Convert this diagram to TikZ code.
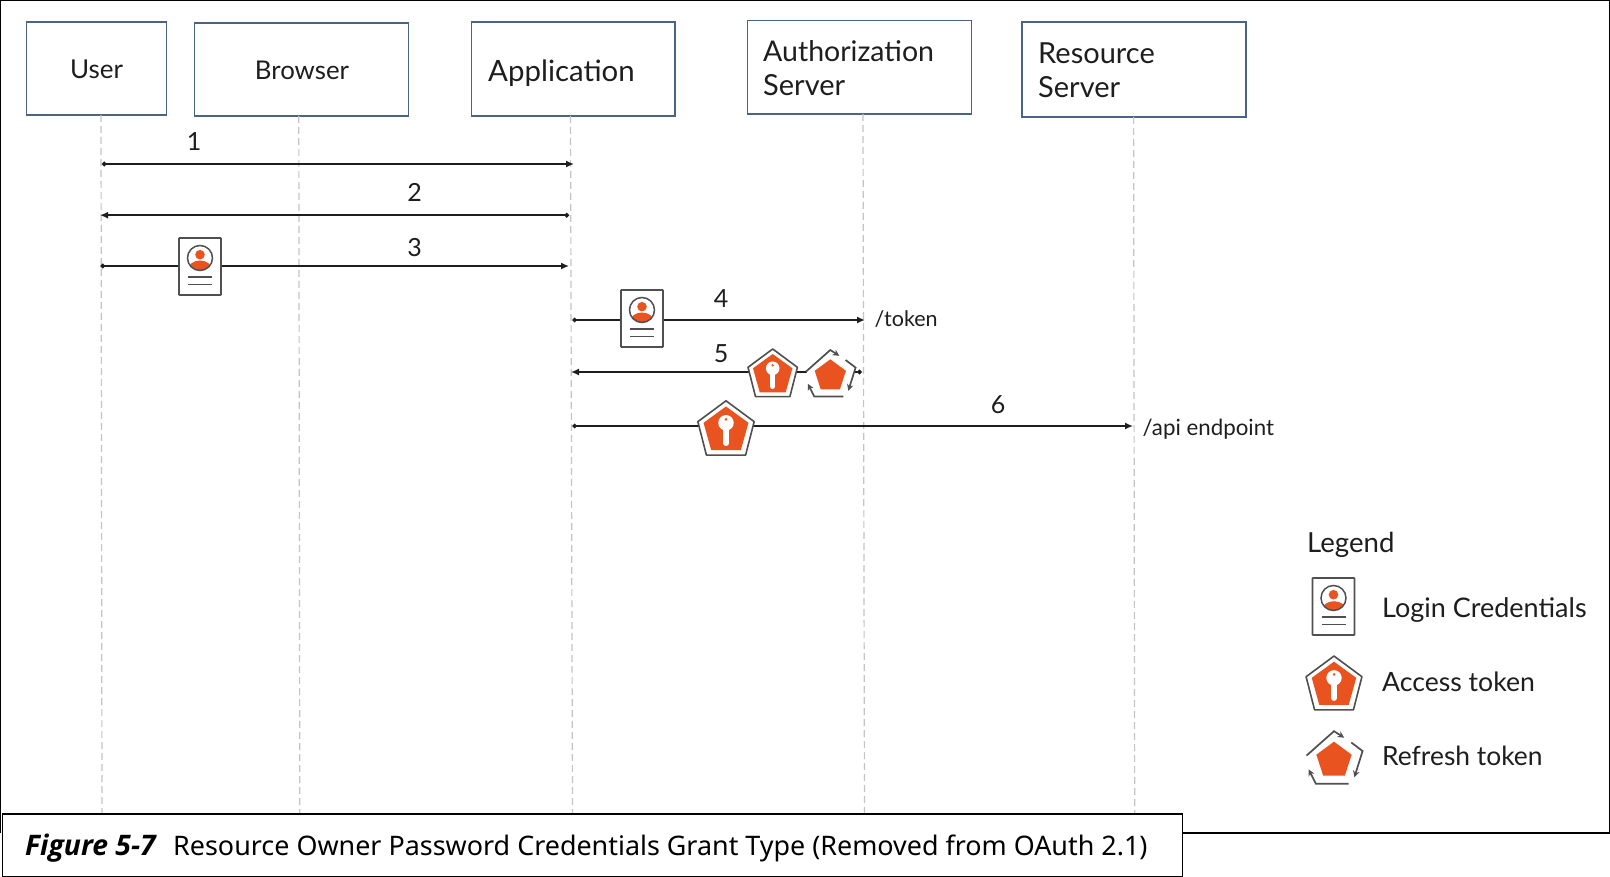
\documentclass[tikz,border=0pt]{standalone}
\usepackage{fontspec}
\setmainfont{Lato}
\newfontfamily\capfont{Noto Sans}
\newfontfamily\capbold{Open Sans}
\usetikzlibrary{arrows.meta}
\definecolor{boxline}{HTML}{4A6584}
\definecolor{lifeline}{HTML}{C4C4C4}
\definecolor{ink}{HTML}{1E1E1E}
\definecolor{tokenorange}{HTML}{E9531F}
\definecolor{icongray}{HTML}{505050}
\newcommand{\fs}[1]{\fontsize{#1}{#1}\selectfont}
\tikzset{
  x=1pt,y=-1pt,
  actor/.style={draw=boxline,line width=1.5pt,fill=white,inner sep=0pt},
  lbl/.style={text=ink,inner sep=0pt},
  life/.style={draw=lifeline,line width=1.2pt,dash pattern=on 7pt off 4pt},
  msg/.style={draw=ink,line width=1.5pt,{Circle[length=4.5pt]}-{Latex[length=8pt,width=7pt]}},
  docicon/.pic={
    \draw[icongray,line width=1.6pt,fill=white,rounded corners=.6pt] (-21,-28.5) rectangle (21,28.5);
    \begin{scope}
      \clip (0,-8.5) circle (12.5);
      \fill[tokenorange] (0,-11.8) circle (4.8);
      \fill[tokenorange] (-12,4.5) .. controls (-12,-9) and (12,-9) .. (12,4.5) -- cycle;
    \end{scope}
    \draw[icongray,line width=1.5pt] (0,-8.5) circle (12.5);
    \draw[icongray,line width=1.7pt] (-12,10.5) -- (12,10.5) (-12,18) -- (12,18);
  },
  accesskey/.pic={
    \draw[icongray,line width=1.6pt,fill=white,line join=round] (0,-24.3) -- (24.7,-6) -- (17.2,23.3) -- (-17.2,23.3) -- (-24.7,-6) -- cycle;
    \fill[tokenorange] (0,-19.3) -- (19.7,-5) -- (13,19) -- (-13,19) -- (-19.7,-5) -- cycle;
    \fill[white] (0,-5) circle (6.8);
    \draw[white,line width=5.4pt,line cap=round] (0,-4) -- (0,13);
    \fill[tokenorange] (0,-8) circle (1.3);
  },
  refreshkey/.pic={
    \fill[white] (0,-24) -- (25,-6) -- (17,24) -- (-17,24) -- (-25,-6) -- cycle;
    \fill[tokenorange] (0,-14) -- (15.6,-2.5) -- (9.6,16) -- (-9.6,16) -- (-15.6,-2.5) -- cycle;
    \draw[icongray,line width=1.7pt,-{Stealth[length=6.5pt,width=6.5pt]}] (-24.3,-1.7) -- (0,-23.3) -- (9,-17.5);
    \draw[icongray,line width=1.7pt,-{Stealth[length=6.5pt,width=6.5pt]}] (15.3,-13.3) -- (25.3,-5.7) -- (18,17.5);
    \draw[icongray,line width=1.7pt,-{Stealth[length=6.5pt,width=6.5pt]}] (13,23.3) -- (-16,23.3) -- (-22.5,10.5);
  },
}
\begin{document}
\begin{tikzpicture}
\useasboundingbox (0,0) rectangle (1610,877);
\fill[white] (0,0) rectangle (1610,877);
\draw[black,line width=1.2pt] (0.6,833) -- (0.6,0.6) -- (1609.2,0.6) -- (1609.2,833) -- (1180,833);

% actors
\node[actor,minimum width=140pt,minimum height=93pt,anchor=north west] (user) at (25.7,21.2) {};
\node[actor,minimum width=214pt,minimum height=93pt,anchor=north west] (browser) at (193.7,22.5) {};
\node[actor,minimum width=203.5pt,minimum height=94pt,anchor=north west] (app) at (470.7,21.2) {};
\node[actor,minimum width=224pt,minimum height=93.5pt,anchor=north west] (auth) at (746.7,20) {};
\node[actor,minimum width=224pt,minimum height=95pt,anchor=north west] (res) at (1021,21.2) {};
\node[lbl,font=\fs{26}] (userL) at (96.5,69) {User};
\node[lbl,font=\fs{25.8}] (browserL) at (302,70) {Browser};
\node[lbl,font=\fs{29.4},anchor=west] (appL) at (488,73) {Application};
\node[lbl,font=\fs{28.5},anchor=west] (authL1) at (763,51.4) {Authorization};
\node[lbl,font=\fs{29},anchor=west] (authL2) at (763,85.4) {Server};
\node[lbl,font=\fs{29},anchor=west] (resL1) at (1038,52.8) {Resource};
\node[lbl,font=\fs{29},anchor=west] (resL2) at (1038,86.7) {Server};

% lifeline ends
\coordinate (ut) at (101,115); \coordinate (ub) at (102,813);
\coordinate (bt) at (298.8,116); \coordinate (bb) at (299.8,813);
\coordinate (at) at (570.5,116);   \coordinate (ab) at (572.5,813);
\coordinate (st) at (863,114); \coordinate (sb) at (864.5,813);
\coordinate (rt) at (1133.6,117);\coordinate (rb) at (1134.7,813);
\draw[life] (ut) -- (ub);
\draw[life] (bt) -- (bb);
\draw[life] (at) -- (ab);
\draw[life] (st) -- (sb);
\draw[life] (rt) -- (rb);

% messages
\coordinate (m1a) at (102,164);   \coordinate (m1b) at (574,164);
\coordinate (m2a) at (569,215.2); \coordinate (m2b) at (100,215.2);
\coordinate (m3a) at (100.5,266); \coordinate (m3b) at (569,266);
\coordinate (m4a) at (572.4,320); \coordinate (m4b) at (865,320);
\coordinate (m5a) at (861.7,372); \coordinate (m5b) at (571,372);
\coordinate (m6a) at (572.4,426); \coordinate (m6b) at (1133,426);
\draw[msg] (m1a) -- (m1b);
\draw[msg] (m2a) -- (m2b);
\draw[msg] (m3a) -- (m3b);
\draw[msg] (m4a) -- (m4b);
\draw[msg] (m5a) -- (m5b);
\draw[msg] (m6a) -- (m6b);

\node[lbl,font=\fs{25}] (n1) at (194,142) {1};
\node[lbl,font=\fs{25}] (n2) at (414.5,192) {2};
\node[lbl,font=\fs{25}] (n3) at (414.5,247.5) {3};
\node[lbl,font=\fs{25}] (n4) at (721,299) {4};
\node[lbl,font=\fs{25}] (n5) at (721,354) {5};
\node[lbl,font=\fs{25}] (n6) at (998,404.5) {6};
\node[lbl,font=\fs{21.5},anchor=west] (tok) at (874.5,319.5) {/token};
\node[lbl,font=\fs{22.3},anchor=west] (api) at (1142.5,429) {/api endpoint};

% icons
\pic (d3) at (200,266.5) {docicon};
\pic (d4) at (642,318.5) {docicon};
\pic (a5) at (772.7,373.3) {accesskey};
\pic (r5) at (830.3,373.3) {refreshkey};
\pic[scale=1.14] (a6) at (726,428.5) {accesskey};

% legend
\node[lbl,font=\fs{27.6},anchor=west] (legT) at (1307,545) {Legend};
\pic (dL) at (1333.5,606.5) {docicon};
\pic[scale=1.13] (aL) at (1334,683.5) {accesskey};
\pic[scale=1.13] (rL) at (1334,757.5) {refreshkey};
\node[lbl,font=\fs{27},anchor=west] (legD) at (1382,610) {Login Credentials};
\node[lbl,font=\fs{26.6},anchor=west] (legA) at (1382,681.5) {Access token};
\node[lbl,font=\fs{26.4},anchor=west] (legR) at (1382,755.5) {Refresh token};

% caption
\node[draw=black,line width=1.2pt,fill=white,minimum width=1180pt,minimum height=62.7pt,anchor=north west,inner sep=0pt] (capbox) at (2,813.3) {};
\node[inner sep=0pt,anchor=base west,text=black,font=\capbold\fs{28.3}] (capfig) at (25,855) {\textbf{\textit{Figure 5-7}}};
\node[inner sep=0pt,anchor=base west,text=black,font=\capfont\fs{26.9}] (cap) at (173,855) {Resource Owner Password Credentials Grant Type (Removed from OAuth 2.1)};
\end{tikzpicture}
\end{document}
